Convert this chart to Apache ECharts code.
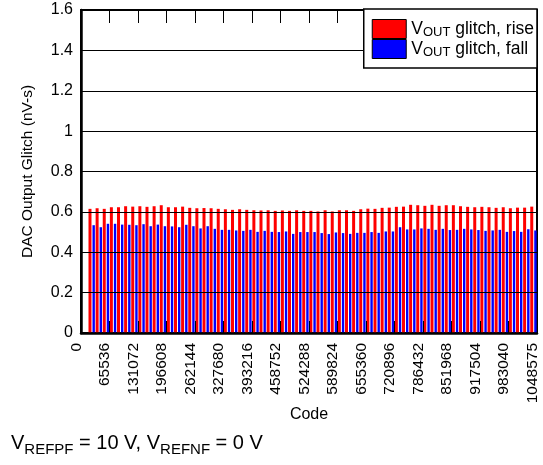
<!DOCTYPE html>
<html>
<head>
<meta charset="utf-8">
<script src="https://cdn.jsdelivr.net/npm/echarts@6/dist/echarts.min.js"></script>
<style>
  html, body { margin: 0; padding: 0; background: #fff; }
  #chart { width: 543px; height: 465px; }
</style>
</head>
<body>
<div id="chart"></div>
<script>
// Code steps (one band per 16384 codes); the first band carries no measurement.
const codeSteps = [
  0, 16384, 32768, 49152, 65536, 81920, 98304, 114688,
  131072, 147456, 163840, 180224, 196608, 212992, 229376, 245760,
  262144, 278528, 294912, 311296, 327680, 344064, 360448, 376832,
  393216, 409600, 425984, 442368, 458752, 475136, 491520, 507904,
  524288, 540672, 557056, 573440, 589824, 606208, 622592, 638976,
  655360, 671744, 688128, 704512, 720896, 737280, 753664, 770048,
  786432, 802816, 819200, 835584, 851968, 868352, 884736, 901120,
  917504, 933888, 950272, 966656, 983040, 999424, 1015808, 1032192
];

// Glitch area (nV-s) for codes 16384 ... 1032192
const riseGlitch = [
  0.615, 0.618, 0.615, 0.623, 0.623, 0.628, 0.626, 0.628, 0.625, 0.628, 0.633, 0.623, 0.623, 0.626, 0.620,
  0.618, 0.619, 0.618, 0.615, 0.613, 0.610, 0.613, 0.610, 0.608, 0.607, 0.608, 0.605, 0.607, 0.605, 0.608, 0.605,
  0.605, 0.602, 0.608, 0.602, 0.608, 0.608, 0.605, 0.613, 0.616, 0.615, 0.620, 0.621, 0.625, 0.626, 0.635, 0.633,
  0.630, 0.635, 0.630, 0.633, 0.633, 0.628, 0.625, 0.623, 0.625, 0.623, 0.620, 0.623, 0.618, 0.621, 0.621, 0.626
];
const fallGlitch = [
  0.534, 0.524, 0.541, 0.541, 0.537, 0.536, 0.534, 0.539, 0.529, 0.537, 0.529, 0.528, 0.524, 0.536, 0.529,
  0.518, 0.529, 0.516, 0.511, 0.511, 0.508, 0.506, 0.511, 0.501, 0.506, 0.501, 0.500, 0.503, 0.491, 0.500, 0.500,
  0.500, 0.495, 0.490, 0.498, 0.495, 0.491, 0.496, 0.496, 0.500, 0.496, 0.503, 0.503, 0.524, 0.513, 0.513, 0.518,
  0.516, 0.511, 0.516, 0.510, 0.511, 0.516, 0.513, 0.510, 0.506, 0.508, 0.511, 0.501, 0.505, 0.501, 0.514, 0.508
];

const codeTicks = [
  '0', '65536', '131072', '196608', '262144', '327680', '393216', '458752', '524288',
  '589824', '655360', '720896', '786432', '851968', '917504', '983040', '1048575'
];
const glitchTicks = [0.2, 0.4, 0.6, 0.8, 1.0, 1.2, 1.4];

const seriesNames = ['VOUT glitch, rise', 'VOUT glitch, fall'];
const FONT = '"Liberation Sans", Arial, Helvetica, sans-serif';

const chart = echarts.init(document.getElementById('chart'), null, { renderer: 'canvas' });

const codeAxisCommon = {
  type: 'value',
  min: 0,
  max: 1048576,
  interval: 65536,
  z: 6,
  splitLine: { show: false },
  axisTick: { show: true, inside: true, length: 12, lineStyle: { color: '#000', width: 1 } }
};

chart.setOption({
  animation: false,
  textStyle: { fontFamily: FONT, color: '#000' },
  grid: {
    left: 81, top: 10, right: 6, bottom: 132,
    show: true, borderColor: '#000', borderWidth: 2, backgroundColor: 'transparent'
  },
  title: {
    left: 6, top: 428,
    text: '{m|V}{s|REFPF}{m| = 10 V, V}{s|REFNF}{m| = 0 V}',
    textStyle: {
      fontFamily: FONT, fontWeight: 'normal',
      rich: {
        m: { fontFamily: FONT, fontWeight: 'normal', fontSize: 20, color: '#000', lineHeight: 24, verticalAlign: 'top' },
        s: { fontFamily: FONT, fontWeight: 'normal', fontSize: 15, color: '#000', lineHeight: 9, verticalAlign: 'bottom' }
      }
    }
  },
  legend: {
    right: 6, top: 9,
    orient: 'vertical',
    itemGap: 0, itemWidth: 34, itemHeight: 19,
    icon: 'rect',
    selectedMode: false,
    backgroundColor: '#fff', borderColor: '#000', borderWidth: 1.5,
    padding: [10, 3, 9, 8],
    z: 10,
    itemStyle: { borderColor: '#000', borderWidth: 1 },
    formatter: name => '{v|V}{s|OUT}{v|' + name.slice(4) + '}',
    textStyle: {
      fontFamily: FONT, fontSize: 17.5, color: '#000', lineHeight: 19,
      rich: {
        v: { fontFamily: FONT, fontSize: 17.5, color: '#000', lineHeight: 19 },
        s: { fontFamily: FONT, fontSize: 13, color: '#000', lineHeight: 12, verticalAlign: 'bottom' }
      }
    }
  },
  xAxis: [
    { type: 'category', data: codeSteps, show: false, boundaryGap: true, position: 'bottom' },
    Object.assign({}, codeAxisCommon, {
      position: 'bottom',
      axisLine: { show: true, onZero: false, lineStyle: { color: '#000', width: 2.5 } },
      axisLabel: {
        rotate: 90, margin: 10, fontSize: 15.5, color: '#000', fontFamily: FONT,
        verticalAlign: 'bottom', lineHeight: 9,
        formatter: v => codeTicks[Math.round(v / 65536)]
      },
      name: 'Code', nameLocation: 'middle', nameGap: 74, nameMoveOverlap: false,
      nameTextStyle: { fontSize: 16, color: '#000', fontFamily: FONT }
    }),
    Object.assign({}, codeAxisCommon, {
      position: 'top',
      axisLine: { show: true, onZero: false, lineStyle: { color: '#000', width: 2 } },
      axisLabel: { show: false },
      axisTick: { show: true, inside: true, length: 13, lineStyle: { color: '#000', width: 1 } }
    })
  ],
  yAxis: [{
    type: 'value', min: 0, max: 1.6, interval: 0.2,
    axisLine: { show: true, lineStyle: { color: '#000', width: 2.5 } },
    axisTick: { show: false },
    splitLine: { show: false },
    axisLabel: { fontSize: 16, margin: 8, color: '#000', fontFamily: FONT },
    name: 'DAC Output Glitch (nV-s)', nameLocation: 'middle', nameGap: 45, nameMoveOverlap: false,
    nameTextStyle: { fontSize: 15.5, color: '#000', fontFamily: FONT }
  }],
  series: [
    {
      name: seriesNames[0], type: 'bar', xAxisIndex: 0, yAxisIndex: 0,
      data: [null].concat(riseGlitch),
      barWidth: 3, barGap: '33%',
      itemStyle: { color: '#ff0000' },
      markLine: {
        silent: true, symbol: 'none', z: 5,
        label: { show: false },
        lineStyle: { color: '#000', width: 1, type: 'solid' },
        data: glitchTicks.map(t => ({ yAxis: t }))
      }
    },
    {
      name: seriesNames[1], type: 'bar', xAxisIndex: 0, yAxisIndex: 0,
      data: [null].concat(fallGlitch),
      barWidth: 2.4, barGap: '33%',
      itemStyle: { color: '#0000ff' }
    }
  ]
});
</script>
</body>
</html>
